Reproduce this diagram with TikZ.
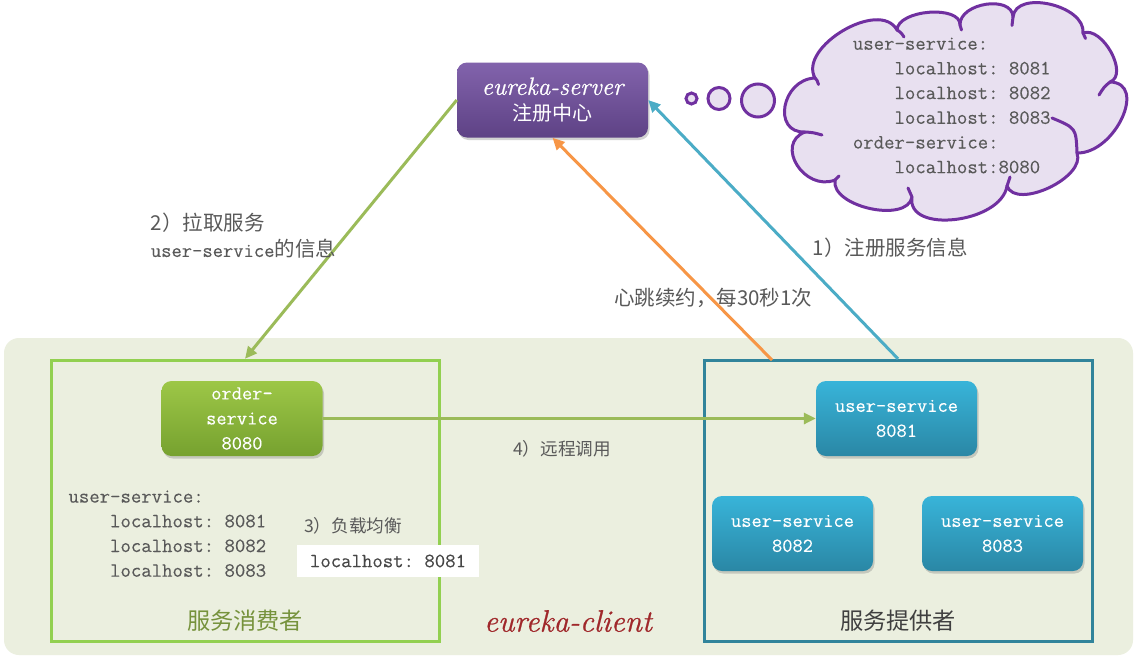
\documentclass[tikz,border=0pt]{standalone}
\usepackage{fontspec}
\usetikzlibrary{shadows,arrows.meta}
\newfontfamily\cjk{Noto Sans CJK SC}
\setmonofont{Latin Modern Mono}[FakeBold=0.2]
\newfontfamily\handf{Latin Modern Roman}[FakeBold=0.8]
\definecolor{bgc}{HTML}{EBEFDF}
\definecolor{consGreen}{HTML}{92D050}
\definecolor{provBlue}{HTML}{31849B}
\definecolor{ogTop}{HTML}{9DC747}
\definecolor{ogBot}{HTML}{76A12F}
\definecolor{ubTop}{HTML}{38B4D9}
\definecolor{ubBot}{HTML}{2A87A5}
\definecolor{epTop}{HTML}{8263AC}
\definecolor{epBot}{HTML}{5E4285}
\definecolor{cloudPurple}{HTML}{7030A0}
\definecolor{cloudFill}{HTML}{E8E0F0}
\definecolor{lbl}{HTML}{595959}
\definecolor{garr}{HTML}{9BBB59}
\definecolor{oarr}{HTML}{F79646}
\definecolor{barr}{HTML}{4BACC6}
\definecolor{olive}{HTML}{76923C}
\definecolor{drk}{HTML}{404040}
\definecolor{ekred}{HTML}{A0282B}
\begin{document}
\begin{tikzpicture}[x=1pt,y=-1pt,
  svc/.style={rounded corners=10pt, minimum width=161, minimum height=75, inner sep=0,
    text=white, align=center, font=\ttfamily\fontsize{19.9}{25}\selectfont,
    drop shadow={shadow xshift=1.5pt,shadow yshift=-2.5pt,opacity=0.35}},
  greensvc/.style={svc, top color=ogTop, bottom color=ogBot},
  bluesvc/.style={svc, top color=ubTop, bottom color=ubBot},
  purplesvc/.style={svc, top color=epTop, bottom color=epBot},
  groupbox/.style={line width=3, minimum width=388, minimum height=281, inner sep=0},
  arr/.style={line width=3, -{Triangle[length=12pt,width=11pt]}},
  lab/.style={inner sep=0, text=lbl, font=\cjk\fontsize{20.5}{26}\selectfont, align=left},
  smalllab/.style={inner sep=0, text=lbl, font=\cjk\fontsize{17.6}{22}\selectfont},
  mono/.style={inner sep=0, text=lbl, align=left, font=\ttfamily\fontsize{20.2}{24.7}\selectfont},
  bubble/.style={circle, draw=cloudPurple, fill=cloudFill, line width=3, inner sep=0},
  cloudline/.style={draw=cloudPurple, line width=3, line cap=round, line join=round}
]
\useasboundingbox (0,0) rectangle (1140,659);
\fill[white] (0,0) rectangle (1140,659);

% background of eureka-client area
\node[fill=bgc, rounded corners=15pt, minimum width=1129, minimum height=317, inner sep=0] (bg) at (568.5,496.5) {};

% group boxes
\node[groupbox, draw=consGreen] (cons) at (245,500.8) {};
\node[groupbox, draw=provBlue] (prov) at (898,500.8) {};

% service nodes
\node[greensvc] (order) at (242,418.5) {order-\\service\\8080};
\node[bluesvc] (u1) at (896.5,418.5) {user-service\\8081};
\node[bluesvc] (u2) at (792.5,533.5) {user-service\\8082};
\node[bluesvc] (u3) at (1002.5,533.5) {user-service\\8083};
\node[purplesvc, minimum width=191, font=\cjk\fontsize{20}{26}\selectfont] (eureka) at (552.5,100)
  {{\handf\itshape\fontsize{25}{25}\selectfont eureka-server}\\注册中心};

% cloud (thought bubble)
\path[cloudline, fill=cloudFill]
  (815,78) .. controls (781.7,79.3) and (771.7,133.3) .. (805,132)
  .. controls (774.3,144) and (804.3,192) .. (835,180)
  .. controls (830.3,206.7) and (907.3,223.7) .. (912,197)
  .. controls (906,234.3) and (1001,223.3) .. (1007,186)
  .. controls (1016.3,210.3) and (1086.3,177.3) .. (1077,153)
  .. controls (1115,153.7) and (1148,82.7) .. (1110,82)
  .. controls (1129.3,74.7) and (1102.3,25.7) .. (1083,33)
  .. controls (1085.7,5.3) and (1015.7,-10.7) .. (1013,17)
  .. controls (1012.3,-5.3) and (959.3,2.7) .. (960,25)
  .. controls (960.7,4.7) and (897.7,9.7) .. (897,30)
  .. controls (879.7,-1.7) and (797.7,47.3) .. (815,78) -- cycle;
\draw[cloudline] (815,78) .. controls (817,80) .. (818.5,84.5);
\draw[cloudline] (805,132) .. controls (813,132.5) .. (822,135);
\draw[cloudline] (835,180) .. controls (837,178) .. (839,176);
\draw[cloudline] (912,197) .. controls (910,192) .. (908,188);
\draw[cloudline] (1007,186) .. controls (1008,181) .. (1010,177);
\draw[cloudline] (1077,153) .. controls (1076,128) .. (1052,118);
\draw[cloudline] (1110,82) .. controls (1104,87) .. (1099,95);
\draw[cloudline] (1083,33) .. controls (1084.5,35.5) .. (1085.5,38.5);
\draw[cloudline] (1013,17) .. controls (1012,21) .. (1012,25.5);
\draw[cloudline] (960,25) .. controls (960.5,27.5) .. (961.5,30);
\draw[cloudline] (897,30) .. controls (901,32.5) .. (904,37);
\node[bubble, minimum size=11] (b1) at (691.5,98.5) {};
\node[bubble, minimum size=22] (b2) at (719,98.5) {};
\node[bubble, minimum size=33] (b3) at (758,100.5) {};
\node[mono, anchor=west] (cloudtxt) at (852.7,105.5)
  {user-service:\\\phantom{0000}localhost: 8081\\\phantom{0000}localhost: 8082\\\phantom{0000}localhost: 8083\\order-service:\\\phantom{0000}localhost:8080};

% connectors
\coordinate (hb) at (772,360);
\draw[arr, draw=garr, fill=garr] (eureka.west) -- (cons.north);
\draw[arr, draw=oarr, fill=oarr] (hb) -- (eureka.south);
\draw[arr, draw=barr, fill=barr] (prov.north) -- (eureka.east);
\draw[arr, draw=garr, fill=garr] (order.east) -- (u1.west);

% labels
\node[lab, anchor=west] (l2) at (150.7,236) {2）拉取服务\\{\ttfamily\fontsize{20}{26}\selectfont user-service}的信息};
\node[lab, anchor=west] (l1) at (812.7,248) {1）注册服务信息};
\node[lab, anchor=west] (lhb) at (614,298) {心跳续约，每30秒1次};
\node[smalllab, anchor=west] (l4) at (513,449) {4）远程调用};
\node[smalllab, anchor=west] (l3) at (304,526) {3）负载均衡};
\node[mono, anchor=west] (list) at (68.3,533.7)
  {user-service:\\\phantom{0000}localhost: 8081\\\phantom{0000}localhost: 8082\\\phantom{0000}localhost: 8083};
\node[mono, fill=white, minimum width=182, minimum height=32, text=lbl!80!black] (pick) at (388,561) {localhost: 8081};
\node[inner sep=0, text=olive, font=\cjk\fontsize{23.2}{28}\selectfont] (consname) at (245,621) {服务消费者};
\node[inner sep=0, text=drk, font=\cjk\fontsize{23.2}{28}\selectfont] (provname) at (898,621) {服务提供者};
\node[inner sep=0, text=ekred, font=\handf\itshape\fontsize{31}{31}\selectfont] (client) at (568,621) {eureka-client};
\end{tikzpicture}
\end{document}
